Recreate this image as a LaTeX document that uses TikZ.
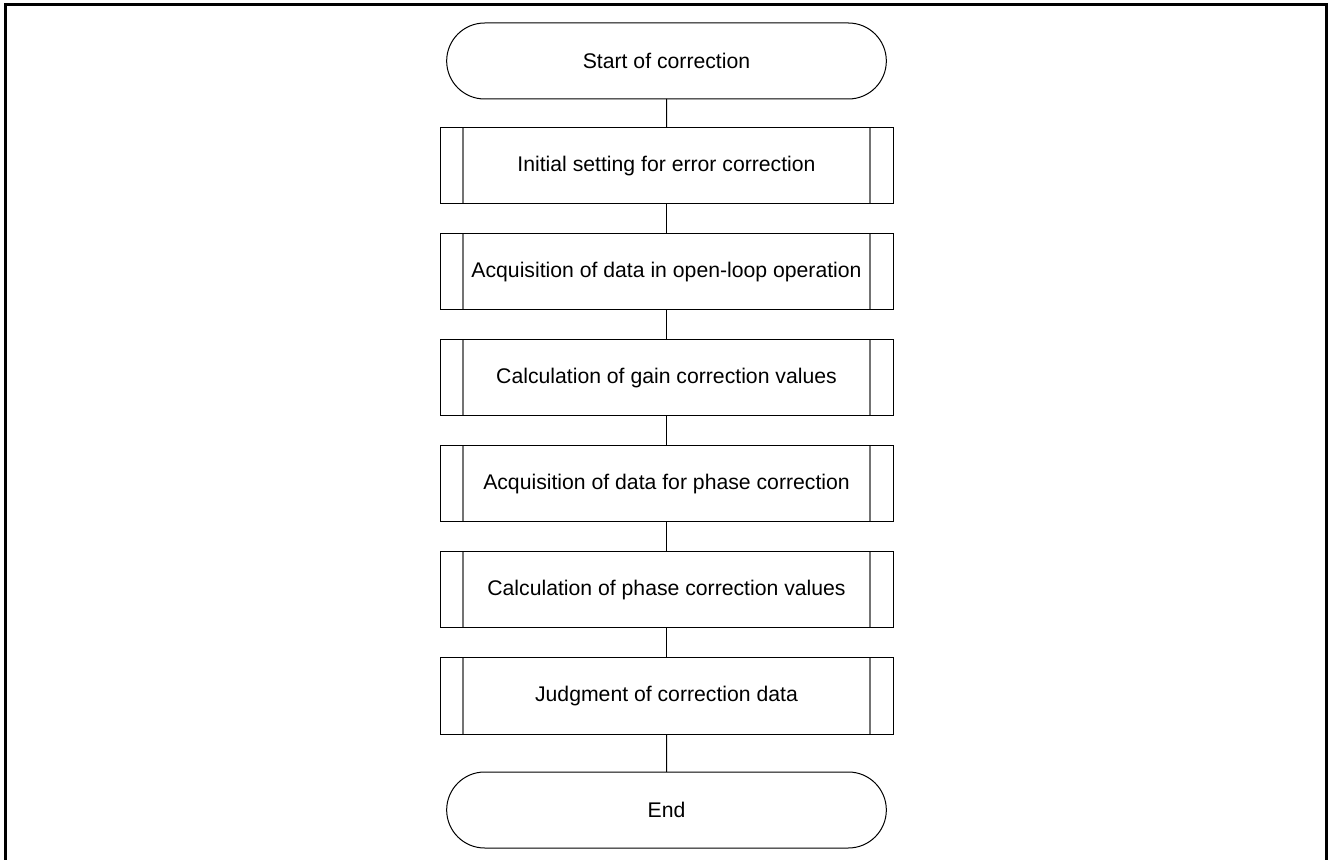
\documentclass[tikz,border=0pt]{standalone}
\usepackage{fontspec}
\setmainfont{Liberation Sans}
\usetikzlibrary{
  positioning,
  shapes.misc,
}
\tikzset{
  terminal/.style={rounded rectangle,draw,line width=0.5pt,outer sep=0pt,minimum width=226.5pt,minimum height=38pt},
  subproc/.style={rectangle,draw,line width=0.5pt,outer sep=0pt,minimum width=226.5pt,minimum height=38pt,
    path picture={
      \draw[gray!90!black,line width=0.6pt]
        ([xshift=11.5pt]path picture bounding box.north west) -- ([xshift=11.5pt]path picture bounding box.south west)
        ([xshift=-11.5pt]path picture bounding box.north east) -- ([xshift=-11.5pt]path picture bounding box.south east);
    }},
  link/.style={line width=0.5pt},
}

\begin{document}
\begin{tikzpicture}[x=0.5pt,y=-0.5pt,node distance=15pt and 0pt,
    font=\fontsize{10.6pt}{13pt}\selectfont]

        \useasboundingbox (0,0) rectangle (1328,860);
        \draw[line width=1.5pt] (5,870) -- (5,5) -- (1326,5) -- (1326,870);

        \node[terminal] (start) at (666.5,61) {Start of correction};
        \node[subproc] (init) [below=14.5pt of start] {Initial setting for error correction};
        \node[subproc] (openloop) [below=of init] {Acquisition of data in open-loop operation};
        \node[subproc] (gaincalc) [below=of openloop] {Calculation of gain correction values};
        \node[subproc] (phaseacq) [below=of gaincalc] {Acquisition of data for phase correction};
        \node[subproc] (phasecalc) [below=of phaseacq] {Calculation of phase correction values};
        \node[subproc] (judge) [below=of phasecalc] {Judgment of correction data};
        \node[terminal] (stop) [below=19pt of judge] {End};

        \draw[link] (start) -- (init);
        \draw[link] (init) -- (openloop);
        \draw[link] (openloop) -- (gaincalc);
        \draw[link] (gaincalc) -- (phaseacq);
        \draw[link] (phaseacq) -- (phasecalc);
        \draw[link] (phasecalc) -- (judge);
        \draw[link] (judge) -- (stop);

      \end{tikzpicture}
\end{document}
